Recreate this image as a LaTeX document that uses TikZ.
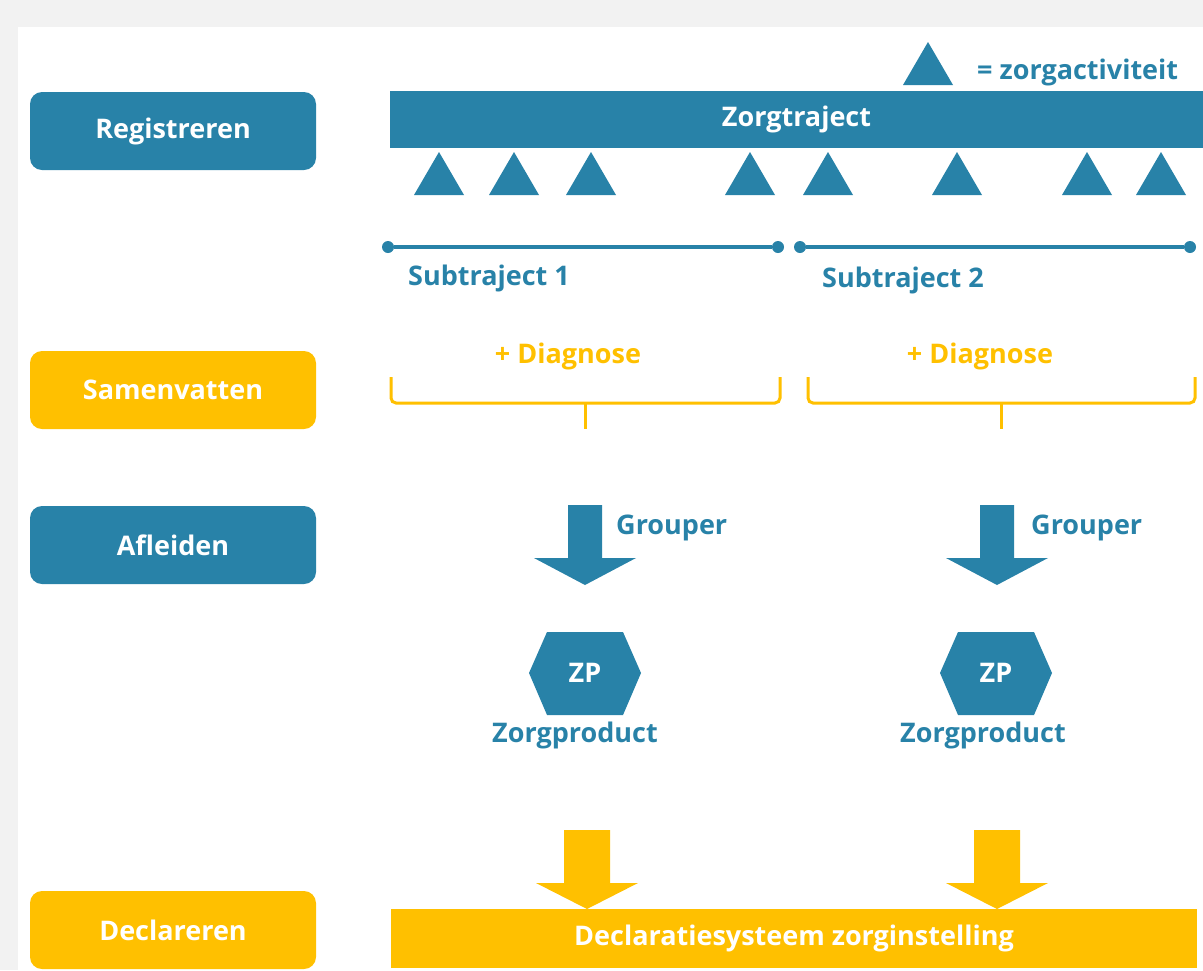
\documentclass[tikz,border=0pt]{standalone}
\usepackage{fontspec}
\setmainfont{Open Sans}
\usetikzlibrary{positioning}
\definecolor{zblue}{RGB}{40,130,168}
\definecolor{zyellow}{RGB}{255,192,0}
% one care activity: centre x, base y
\newcommand\activity[2]{
  \fill[zblue] (#1-25,#2) -- (#1,#2-43) -- (#1+25,#2) -- cycle;
}
% block arrow: colour, centre x, top, head base, tip, half shaft width
\newcommand\bigarrow[6]{
  \fill[#1] (#2-#6,#3) -- (#2+#6,#3) -- (#2+#6,#4) -- (#2+51,#4)
    -- (#2,#5) -- (#2-51,#4) -- (#2-#6,#4) -- cycle;
}
% bracket under a subtraject: left x, right x, tip x
\newcommand\haak[3]{
  \draw[zyellow, line width=3pt, rounded corners=5pt]
    (#1,377) -- (#1,403) -- (#2,403) -- (#2,377);
  \draw[zyellow, line width=3pt] (#3,403) -- (#3,429);
}
% product hexagon: centre x
\newcommand\zphex[1]{
  \fill[zblue] (#1-56,673) -- (#1-38,632) -- (#1+38,632)
    -- (#1+56,673) -- (#1+38,715) -- (#1-38,715) -- cycle;
}

\begin{document}
\begin{tikzpicture}[x=1pt,y=-1pt,
    font=\bfseries\fontsize{27}{31}\selectfont,
    phase/.style={rounded corners=12pt,minimum width=286pt,minimum height=78pt,
      text=white,inner sep=0pt},
    bar/.style={minimum height=57pt,inner sep=0pt,text=white},
    lbl/.style={text=zblue,inner sep=0pt},
    dot/.style={circle,fill=zblue,inner sep=0pt,minimum size=12pt}
  ]
    \useasboundingbox (0,0) rectangle (1203,970);
    \fill[black!5] (0,0) rectangle (1203,970);
    \fill[white] (18,27) rectangle (1203,970);

    % phases
    \node[phase,fill=zblue] (registreren) at (173,131) {Registreren};
    \node[phase,fill=zyellow] (samenvatten) at (173,390) {Samenvatten};
    \node[phase,fill=zblue] (afleiden) at (173,545) {Afleiden};
    \node[phase,fill=zyellow] (declareren) at (173,930) {Declareren};

    % zorgtraject
    \activity{928}{85}
    \node[lbl,anchor=west] (legenda) at (977,72) {= zorgactiviteit};
    \node[bar,fill=zblue,minimum width=813pt] (zorgtraject) at (796.5,119.5) {Zorgtraject};

    \activity{439}{195}
    \activity{514}{195}
    \activity{591}{195}
    \activity{750}{195}
    \activity{828}{195}
    \activity{957}{195}
    \activity{1087}{195}
    \activity{1161}{195}

    % subtrajecten
    \node[dot] (s1a) at (388,247) {};
    \node[dot] (s1b) at (778,247) {};
    \node[dot] (s2a) at (800,247) {};
    \node[dot] (s2b) at (1190,247) {};
    \draw[zblue,line width=4pt] (s1a) -- (s1b);
    \draw[zblue,line width=4pt] (s2a) -- (s2b);
    \node[lbl,anchor=west] (sub1) at (408,278) {Subtraject 1};
    \node[lbl,anchor=west] (sub2) at (822,280) {Subtraject 2};

    % samenvatten
    \node[text=zyellow] (diag1) at (568,356) {+ Diagnose};
    \node[text=zyellow] (diag2) at (980,356) {+ Diagnose};
    \haak{391}{780}{585}
    \haak{808}{1195}{1001}

    % afleiden
    \bigarrow{zblue}{585}{505}{558}{585}{17}
    \bigarrow{zblue}{997}{505}{558}{585}{17}
    \node[lbl,anchor=west] (grouper1) at (616,528) {Grouper};
    \node[lbl,anchor=west] (grouper2) at (1031,528) {Grouper};

    \zphex{585}
    \zphex{996}
    \node[text=white] (zp1) at (585,673) {ZP};
    \node[text=white] (zp2) at (996,673) {ZP};
    \node[lbl] (product1) at (575,735) {Zorgproduct};
    \node[lbl] (product2) at (983,735) {Zorgproduct};

    % declareren
    \bigarrow{zyellow}{587}{830}{883}{909}{23}
    \bigarrow{zyellow}{997}{830}{883}{909}{23}
    \node[bar,fill=zyellow,minimum width=806pt,minimum height=59pt] (declaratie)
      at (794,938.5) {Declaratiesysteem zorginstelling};
  \end{tikzpicture}
\end{document}
